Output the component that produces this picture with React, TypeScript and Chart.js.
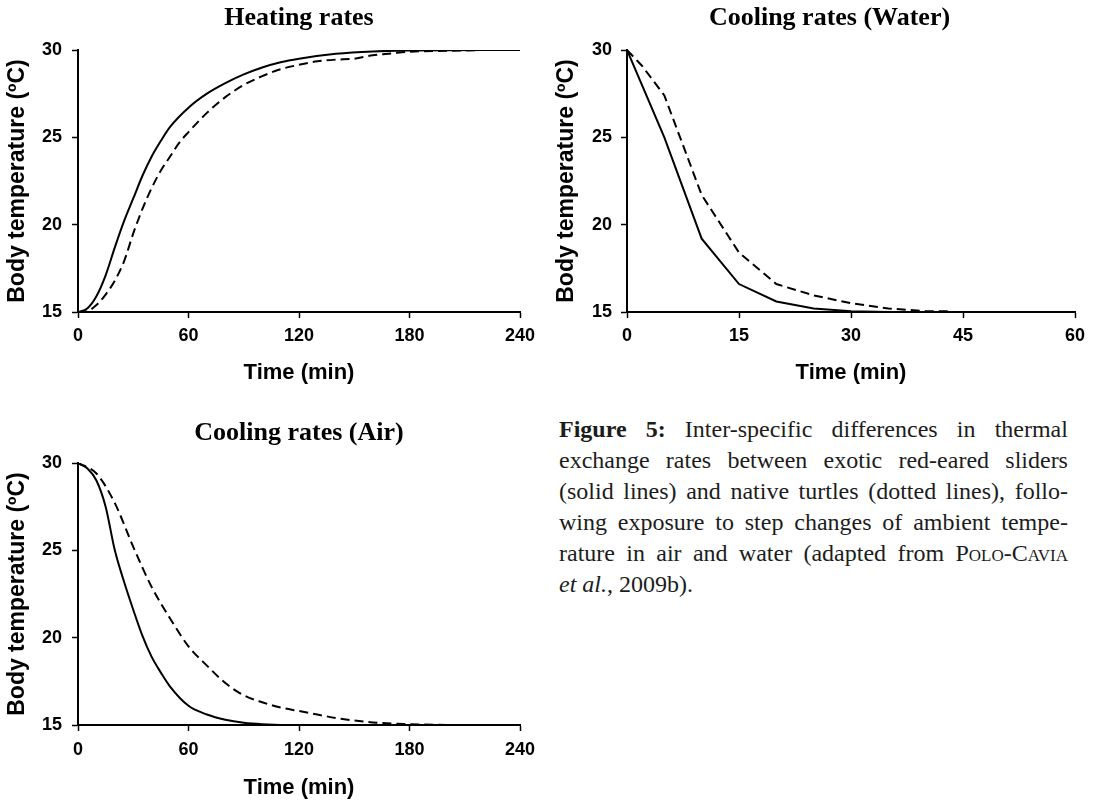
import React, { useEffect, useRef } from 'react';
import { Chart, registerables } from 'chart.js';

Chart.register(...registerables);

// ---------- DATA ----------
// Heating rates (0–240 min)
const heatSolidTime = [0, 5, 10, 15, 20, 25, 30, 35, 40, 45, 50, 60, 70, 80, 90, 100, 110, 120, 140, 160, 180, 240];
const heatSolidTemp = [15.0, 15.2, 15.9, 17.1, 18.7, 20.2, 21.5, 22.8, 23.9, 24.8, 25.6, 26.7, 27.5, 28.1, 28.6, 29.0, 29.3, 29.5, 29.78, 29.92, 29.97, 30.0];
const heatDashTime = [0, 5, 10, 15, 20, 25, 30, 35, 40, 45, 50, 55, 60, 70, 80, 90, 100, 110, 120, 130, 140, 150, 160, 170, 180, 200, 220];
const heatDashTemp = [15.0, 15.05, 15.4, 16.0, 16.8, 17.9, 19.5, 20.9, 22.1, 23.1, 23.9, 24.7, 25.3, 26.4, 27.3, 28.0, 28.5, 28.9, 29.15, 29.35, 29.45, 29.5, 29.7, 29.8, 29.9, 29.95, 30.0];

// Cooling rates in water (0–60 min)
const waterSolidTime = [0, 5, 10, 15, 20, 25, 30, 35, 60];
const waterSolidTemp = [30.0, 25.0, 19.2, 16.6, 15.6, 15.2, 15.05, 15.0, 15.0];
const waterDashTime = [0, 2, 5, 10, 15, 20, 25, 30, 35, 40, 43];
const waterDashTemp = [30.0, 29.1, 27.4, 21.7, 18.4, 16.6, 15.95, 15.5, 15.2, 15.05, 15.05];

// Cooling rates in air (0–240 min)
const airSolidTime = [0, 5, 10, 15, 20, 25, 30, 35, 40, 45, 50, 60, 70, 80, 90, 100, 120, 240];
const airSolidTemp = [30.0, 29.7, 29.0, 27.5, 25.0, 23.2, 21.6, 20.1, 18.9, 18.0, 17.2, 16.1, 15.6, 15.3, 15.13, 15.05, 15.0, 15.0];
const airDashTime = [0, 10, 20, 30, 40, 50, 60, 70, 80, 90, 100, 110, 120, 130, 140, 160, 180, 200];
const airDashTemp = [30.0, 29.4, 27.7, 25.2, 22.9, 21.1, 19.5, 18.4, 17.4, 16.7, 16.3, 16.0, 15.8, 15.6, 15.4, 15.15, 15.05, 15.0];

const yMin = 15;
const yMax = 30;
const yStep = 5;
const xAxisTitle = 'Time (min)';
const yAxisTitle = 'Body temperature (ºC)';

// ---------- STYLE ----------
const SANS = '"Liberation Sans", Arial, sans-serif';
const SERIF = '"Liberation Serif", "Times New Roman", serif';

type Spec = {
  title: string;
  left: number; top: number; w: number; h: number;
  xMax: number; xStep: number;
  solidT: number[]; solidV: number[];
  dashT: number[]; dashV: number[];
  smooth: boolean;
  padL: number; padR: number;
  yW: number; xH: number;
  titleFull: boolean; titleTop: number; titleBottom: number;
  yTitlePad: number; xTitlePad: number;
  xTickPad: number; yTickPad: number;
};

const pts = (t: number[], v: number[]) => t.map((x, i) => ({ x, y: v[i] }));

function buildConfig(s: Spec): any {
  const tickFont = { family: SANS, size: 18, weight: 'bold' as const };
  const grid = { drawOnChartArea: false, drawTicks: true, tickLength: 6, tickColor: '#000', tickWidth: 1.5 };
  const border = { display: true, color: '#000', width: 2 };
  return {
    type: 'line',
    data: {
      datasets: [
        {
          label: 'Red-eared sliders',
          data: pts(s.solidT, s.solidV),
          borderColor: '#000',
          borderWidth: 2,
          pointRadius: 0,
          fill: false,
          tension: s.smooth ? 0.4 : 0,
          cubicInterpolationMode: s.smooth ? 'monotone' : 'default',
        },
        {
          label: 'Native turtles',
          data: pts(s.dashT, s.dashV),
          borderColor: '#000',
          borderWidth: 2,
          borderDash: [9, 5],
          pointRadius: 0,
          fill: false,
          tension: s.smooth ? 0.4 : 0,
          cubicInterpolationMode: s.smooth ? 'monotone' : 'default',
        },
      ],
    },
    options: {
      responsive: false,
      animation: false,
      devicePixelRatio: 1,
      layout: { padding: { left: s.padL, right: s.padR, top: 0, bottom: 0 } },
      plugins: {
        legend: { display: false },
        tooltip: { enabled: false },
        title: {
          display: true,
          text: s.title,
          fullSize: s.titleFull,
          color: '#000',
          font: { family: SERIF, size: 26, weight: 'bold', lineHeight: 1.2 },
          padding: { top: s.titleTop, bottom: s.titleBottom },
        },
      },
      scales: {
        x: {
          type: 'linear',
          min: 0,
          max: s.xMax,
          ticks: { stepSize: s.xStep, font: tickFont, color: '#000', padding: s.xTickPad, maxRotation: 0 },
          grid,
          border,
          title: {
            display: true,
            text: xAxisTitle,
            color: '#000',
            font: { family: SANS, size: 22, weight: 'bold', lineHeight: 1.2 },
            padding: { top: 0, bottom: s.xTitlePad },
          },
          afterFit: (sc: any) => { sc.height = s.xH; },
        },
        y: {
          type: 'linear',
          min: yMin,
          max: yMax,
          ticks: { stepSize: yStep, font: tickFont, color: '#000', padding: s.yTickPad },
          grid,
          border,
          title: {
            display: true,
            text: yAxisTitle,
            color: '#000',
            font: { family: SANS, size: 23, weight: 'bold', lineHeight: 1.2 },
            padding: { top: s.yTitlePad, bottom: 0 },
          },
          afterFit: (sc: any) => { sc.width = s.yW; },
        },
      },
    },
  };
}

function ThermalChart({ spec }: { spec: Spec }) {
  const ref = useRef<HTMLCanvasElement>(null);
  useEffect(() => {
    const chart = new Chart(ref.current as HTMLCanvasElement, buildConfig(spec));
    return () => chart.destroy();
  }, [spec]);
  return (
    <canvas
      ref={ref}
      width={spec.w}
      height={spec.h}
      style={{ position: 'absolute', left: spec.left, top: spec.top, width: spec.w, height: spec.h }}
    />
  );
}

const heatingSpec: Spec = {
  title: 'Heating rates',
  left: 0, top: 0, w: 548, h: 390,
  xMax: 240, xStep: 60,
  solidT: heatSolidTime, solidV: heatSolidTemp,
  dashT: heatDashTime, dashV: heatDashTemp,
  smooth: true,
  padL: 0, padR: 28, yW: 78, xH: 78,
  titleFull: false, titleTop: 2.4, titleBottom: 16.4,
  yTitlePad: 3.7, xTitlePad: 3.8, xTickPad: 7, yTickPad: 10,
};

const waterSpec: Spec = {
  title: 'Cooling rates (Water)',
  left: 548, top: 0, w: 549, h: 390,
  xMax: 60, xStep: 15,
  solidT: waterSolidTime, solidV: waterSolidTemp,
  dashT: waterDashTime, dashV: waterDashTemp,
  smooth: false,
  padL: 36, padR: 22, yW: 43, xH: 78,
  titleFull: true, titleTop: 2.4, titleBottom: 16.4,
  yTitlePad: -30.8, xTitlePad: 3.8, xTickPad: 7, yTickPad: 9,
};

const airSpec: Spec = {
  title: 'Cooling rates (Air)',
  left: 0, top: 390, w: 548, h: 413,
  xMax: 240, xStep: 60,
  solidT: airSolidTime, solidV: airSolidTemp,
  dashT: airDashTime, dashV: airDashTemp,
  smooth: true,
  padL: 0, padR: 28, yW: 78, xH: 78,
  titleFull: false, titleTop: 27.4, titleBottom: 14.4,
  yTitlePad: 3.7, xTitlePad: 1.8, xTickPad: 8, yTickPad: 10,
};

const lineStyle: React.CSSProperties = {
  display: 'flex',
  justifyContent: 'space-between',
  whiteSpace: 'nowrap',
  height: 31,
  lineHeight: '31px',
};

function JLine({ words }: { words: React.ReactNode[] }) {
  return (
    <div style={lineStyle}>
      {words.map((w, i) => (
        <span key={i}>{w}</span>
      ))}
    </div>
  );
}

function Caption() {
  return (
    <div
      style={{
        position: 'absolute',
        left: 559,
        top: 414,
        width: 509,
        fontFamily: SERIF,
        fontSize: 24,
        color: '#1c1c1c',
      }}
    >
      <JLine words={[<b>Figure</b>, <b>5:</b>, 'Inter-specific', 'differences', 'in', 'thermal']} />
      <JLine words={['exchange', 'rates', 'between', 'exotic', 'red-eared', 'sliders']} />
      <JLine words={['(solid', 'lines)', 'and', 'native', 'turtles', '(dotted', 'lines),', 'follo-']} />
      <JLine words={['wing', 'exposure', 'to', 'step', 'changes', 'of', 'ambient', 'tempe-']} />
      <JLine
        words={['rature', 'in', 'air', 'and', 'water', '(adapted', 'from', <span style={{ fontVariant: 'small-caps' }}>Polo-Cavia</span>]}
      />
      <div style={{ height: 31, lineHeight: '31px', whiteSpace: 'nowrap' }}>
        <i>et al.</i>, 2009b).
      </div>
    </div>
  );
}

export default function App() {
  return (
    <div style={{ position: 'absolute', left: 0, top: 0, width: 1097, height: 803, background: '#fff' }}>
      <ThermalChart spec={heatingSpec} />
      <ThermalChart spec={waterSpec} />
      <ThermalChart spec={airSpec} />
      <Caption />
    </div>
  );
}
